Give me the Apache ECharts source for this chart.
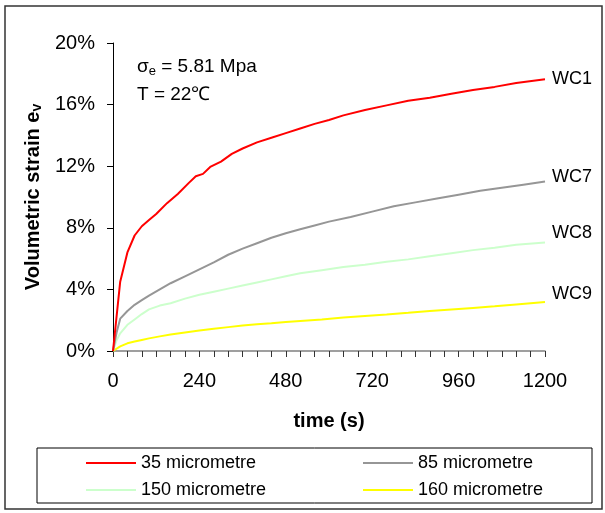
<!DOCTYPE html>
<html>
<head>
<meta charset="utf-8">
<script src="https://cdn.jsdelivr.net/npm/echarts@6/dist/echarts.min.js"></script>
<style>
html,body{margin:0;padding:0;background:#fff;}
#chart{width:605px;height:513px;}
</style>
</head>
<body>
<div id="chart"></div>
<script>
// time (s) and volumetric strain (%) per series
const seriesNames = ['35 micrometre', '85 micrometre', '150 micrometre', '160 micrometre'];
const endLabels = ['WC1', 'WC7', 'WC8', 'WC9'];
const seriesColors = ['#ff0000', '#969696', '#ccffcc', '#ffff00'];

const t35 = [0, 20, 40, 60, 80, 100, 120, 150, 180, 210, 230, 250, 270, 300, 330, 360, 400, 440, 480, 520, 560, 600, 640, 700, 760, 820, 880, 940, 1000, 1060, 1120, 1200];
const v35 = [0, 4.5, 6.4, 7.5, 8.1, 8.5, 8.9, 9.6, 10.2, 10.9, 11.35, 11.5, 11.95, 12.3, 12.8, 13.15, 13.55, 13.85, 14.15, 14.45, 14.75, 15.0, 15.3, 15.65, 15.95, 16.25, 16.45, 16.7, 16.95, 17.15, 17.4, 17.65];

const t85 = [0, 10, 20, 40, 60, 80, 100, 130, 160, 200, 240, 280, 320, 360, 400, 440, 480, 520, 560, 600, 660, 720, 780, 840, 900, 960, 1020, 1080, 1140, 1200];
const v85 = [0, 1.2, 2.1, 2.6, 3.0, 3.3, 3.6, 4.0, 4.4, 4.85, 5.3, 5.75, 6.25, 6.65, 7.0, 7.35, 7.65, 7.9, 8.15, 8.4, 8.7, 9.05, 9.4, 9.65, 9.9, 10.15, 10.4, 10.6, 10.8, 11.0];

const t150 = [0, 10, 20, 40, 60, 80, 100, 130, 160, 200, 240, 280, 320, 360, 400, 440, 480, 520, 580, 640, 700, 760, 820, 880, 940, 1000, 1060, 1120, 1200];
const v150 = [0, 0.7, 1.15, 1.7, 2.05, 2.4, 2.7, 2.95, 3.1, 3.4, 3.65, 3.85, 4.05, 4.25, 4.45, 4.65, 4.85, 5.05, 5.25, 5.45, 5.6, 5.8, 5.95, 6.15, 6.35, 6.55, 6.7, 6.9, 7.05];

const t160 = [0, 20, 40, 60, 80, 100, 130, 160, 200, 240, 280, 320, 360, 400, 440, 480, 520, 580, 640, 700, 760, 820, 880, 940, 1000, 1060, 1120, 1200];
const v160 = [0, 0.3, 0.5, 0.62, 0.72, 0.82, 0.95, 1.07, 1.2, 1.33, 1.45, 1.55, 1.65, 1.73, 1.8, 1.88, 1.95, 2.05, 2.17, 2.27, 2.37, 2.48, 2.6, 2.7, 2.8, 2.9, 3.02, 3.18];

const times = [t35, t85, t150, t160];
const values = [v35, v85, v150, v160];

const FONT = 'Liberation Sans, Arial, sans-serif';
const labelOffsets = [[0, 0], [0, -5], [0, -9], [0, -8]];

const chart = echarts.init(document.getElementById('chart'), null, {renderer: 'canvas'});

const series = seriesNames.map((name, i) => ({
  name: name,
  type: 'line',
  symbol: 'none',
  smooth: false,
  data: times[i].map((t, k) => [t, values[i][k]]),
  lineStyle: {color: seriesColors[i], width: 2},
  itemStyle: {color: seriesColors[i]},
  endLabel: {
    show: true,
    formatter: endLabels[i],
    color: '#000',
    fontFamily: FONT,
    fontSize: 18,
    distance: 7,
    offset: labelOffsets[i]
  },
  emphasis: {disabled: true},
  z: 10 - i
}));

const legendPos = [[86, 454], [363, 454], [86, 481], [363, 481]];
const legends = seriesNames.map((name, i) => ({
  data: [name],
  left: legendPos[i][0],
  top: legendPos[i][1],
  icon: 'rect',
  itemWidth: 50,
  itemHeight: 2,
  itemGap: 0,
  padding: 0,
  selectedMode: false,
  textStyle: {fontFamily: FONT, fontSize: 18, color: '#000', padding: [0, 0, 0, 0]}
}));

chart.setOption({
  animation: false,
  backgroundColor: '#fff',
  grid: {left: 113, right: 60, top: 43, bottom: 162},
  legend: legends,
  xAxis: {
    type: 'value',
    min: 0,
    max: 1200,
    interval: 240,
    name: 'time (s)',
    nameLocation: 'middle',
    nameGap: 60,
    nameTextStyle: {fontFamily: FONT, fontSize: 20, fontWeight: 'bold', color: '#000', verticalAlign: 'top'},
    axisLine: {lineStyle: {color: '#808080', width: 1.5}},
    axisTick: {show: true, length: 6, lineStyle: {color: '#333'}},
    minorTick: {show: true, splitNumber: 6, length: 6, lineStyle: {color: '#333'}},
    axisLabel: {fontFamily: FONT, fontSize: 20, color: '#000', margin: 20, formatter: v => String(v)},
    splitLine: {show: false}
  },
  yAxis: {
    type: 'value',
    min: 0,
    max: 20,
    interval: 4,
    name: '{a|Volumetric strain e}{s|v}',
    nameLocation: 'middle',
    nameGap: 68,
    nameTextStyle: {
      rich: {
        a: {fontFamily: FONT, fontSize: 20, fontWeight: 'bold', color: '#000'},
        s: {fontFamily: FONT, fontSize: 14, fontWeight: 'bold', color: '#000', verticalAlign: 'bottom', padding: [7, 0, 0, 0]}
      }
    },
    axisLine: {show: true, lineStyle: {color: '#000', width: 1}},
    axisTick: {show: true, length: 6, lineStyle: {color: '#000'}},
    axisLabel: {fontFamily: FONT, fontSize: 20, color: '#000', margin: 18, formatter: v => v + '%'},
    splitLine: {show: false}
  },
  graphic: [
    {type: 'rect', shape: {x: 5, y: 6, width: 597, height: 503}, style: {fill: null, stroke: '#333', lineWidth: 1.5}, silent: true, z: -1},
    {type: 'rect', shape: {x: 37, y: 448, width: 555, height: 55}, style: {fill: null, stroke: '#000', lineWidth: 1}, silent: true, z: -1},
    {type: 'text', left: 137, top: 57, style: {text: '{a|σ}{s|e}{a| = 5.81 Mpa}', rich: {a: {fontFamily: FONT, fontSize: 19, fill: '#000'}, s: {fontFamily: FONT, fontSize: 13, fill: '#000', verticalAlign: 'bottom', padding: [9, 0, 0, 0]}}}},
    {type: 'text', left: 137, top: 85, style: {text: 'T = 22℃', fontFamily: FONT, fontSize: 19, fill: '#000'}}
  ],
  series: series
});
</script>
</body>
</html>
